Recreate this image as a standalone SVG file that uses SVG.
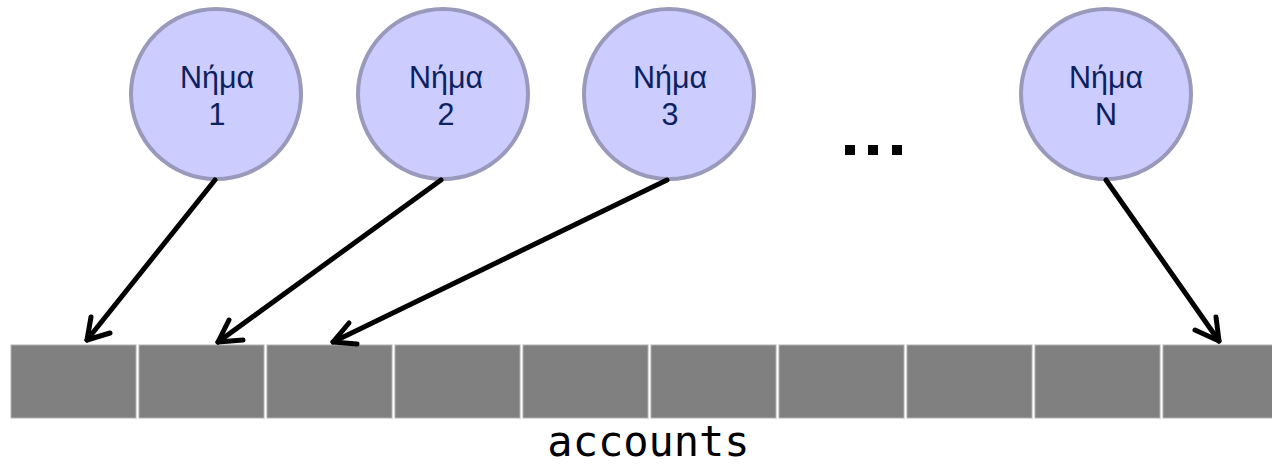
<svg xmlns="http://www.w3.org/2000/svg" width="1272" height="466" viewBox="0 0 1272 466">
<style>
.node circle{fill:#ccccff;stroke:#9999bb;stroke-width:4}
.node text{font-family:"Liberation Sans",Arial,sans-serif;font-size:30.5px;fill:#0b2160;text-anchor:middle}
.cell{fill:#808080;stroke:#b0b0b0;stroke-width:1}
.conn line{stroke:#000;stroke-width:5;stroke-linecap:round}
.conn path{fill:none;stroke:#000;stroke-width:5;stroke-linecap:round;stroke-linejoin:round}
.dot{fill:#000}
</style>
<rect width="1272" height="466" fill="#fff"/>
<g id="array">
<rect class="cell" x="11" y="345" width="125" height="73"/>
<rect class="cell" x="139" y="345" width="125" height="73"/>
<rect class="cell" x="267" y="345" width="125" height="73"/>
<rect class="cell" x="395" y="345" width="125" height="73"/>
<rect class="cell" x="523" y="345" width="125" height="73"/>
<rect class="cell" x="651" y="345" width="125" height="73"/>
<rect class="cell" x="779" y="345" width="125" height="73"/>
<rect class="cell" x="907" y="345" width="125" height="73"/>
<rect class="cell" x="1035" y="345" width="125" height="73"/>
<rect class="cell" x="1163" y="345" width="125" height="73"/>
<text x="648.5" y="456" font-family="DejaVu Sans Mono,monospace" font-size="42" text-anchor="middle" fill="#000">accounts</text>
</g>
<g id="n1" class="node"><circle cx="216" cy="94" r="85"/><text x="217" y="88">Νήμα</text><text x="217" y="125">1</text></g>
<g id="n2" class="node"><circle cx="443" cy="94" r="85"/><text x="446" y="88">Νήμα</text><text x="446" y="125">2</text></g>
<g id="n3" class="node"><circle cx="669" cy="94" r="85"/><text x="670" y="88">Νήμα</text><text x="670" y="125">3</text></g>
<g id="nN" class="node"><circle cx="1106" cy="94" r="85"/><text x="1106" y="88">Νήμα</text><text x="1106" y="125">N</text></g>
<g id="ellipsis"><rect class="dot" x="845" y="145" width="10" height="10"/><rect class="dot" x="868" y="145" width="10" height="10"/><rect class="dot" x="892" y="145" width="10" height="10"/></g>
<g id="connectors" class="conn">
<line x1="215" y1="180" x2="87" y2="340"/>
<path d="M91 317 L87 340 L110 333"/>
<line x1="441" y1="180" x2="218" y2="342"/>
<path d="M229 320 L218 342 L243 340"/>
<line x1="667" y1="180" x2="333" y2="342"/>
<path d="M349 323 L333 342 L357 344"/>
<line x1="1106" y1="180" x2="1219" y2="341"/>
<path d="M1195 330 L1219 341 L1216 317"/>
</g>
</svg>
